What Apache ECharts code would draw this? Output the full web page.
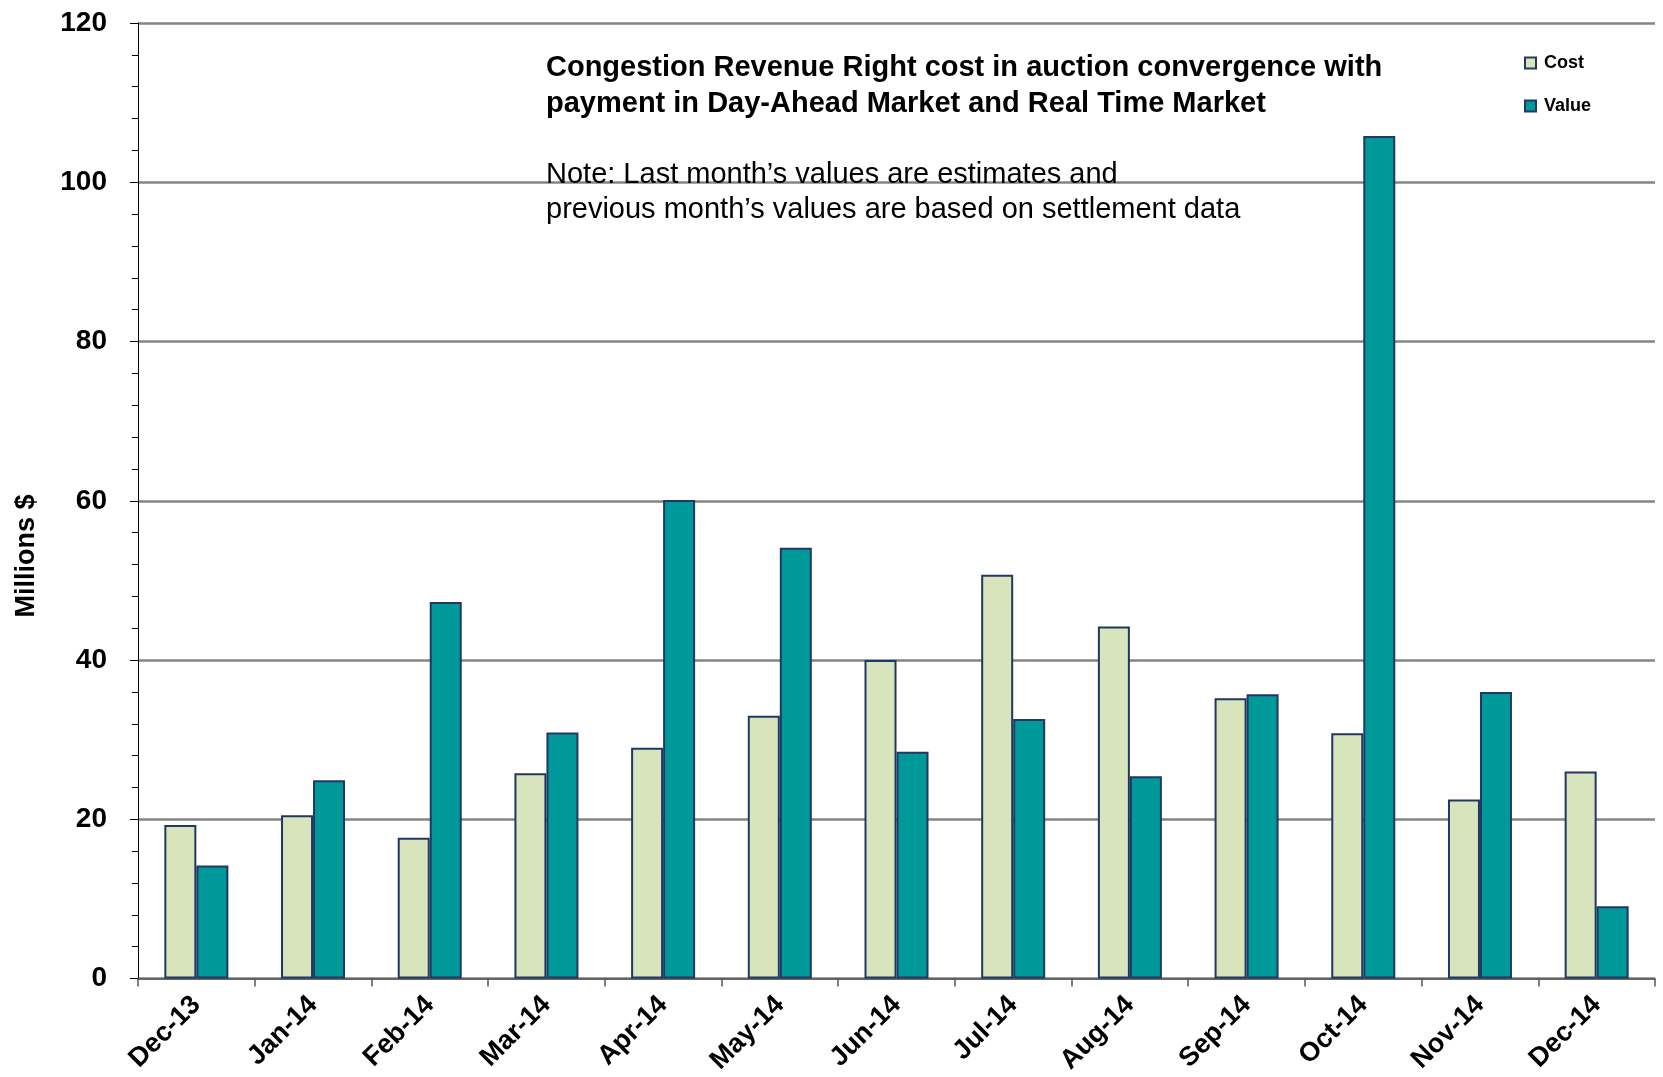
<!DOCTYPE html>
<html>
<head>
<meta charset="utf-8">
<script src="https://cdn.jsdelivr.net/npm/echarts@6/dist/echarts.min.js"></script>
<style>
  html, body { margin: 0; padding: 0; background: #fff; }
  #chart { width: 1663px; height: 1077px; }
</style>
</head>
<body>
<div id="chart"></div>
<script>
const months = ['Dec-13', 'Jan-14', 'Feb-14', 'Mar-14', 'Apr-14', 'May-14', 'Jun-14',
  'Jul-14', 'Aug-14', 'Sep-14', 'Oct-14', 'Nov-14', 'Dec-14']
const cost = [19.3, 20.5, 17.7, 25.8, 29.0, 33.0, 40.0, 50.7, 44.2, 35.2, 30.8, 22.5, 26.0]
const value = [14.2, 24.9, 47.3, 30.9, 60.1, 54.1, 28.5, 32.6, 25.4, 35.7, 105.8, 36.0, 9.1]
const yTicks = [0, 20, 40, 60, 80, 100, 120]

const font = 'Liberation Sans, Arial, sans-serif'
const border = '#1F3864'

const chart = echarts.init(document.getElementById('chart'))

chart.setOption({
  animation: false,
  textStyle: { fontFamily: font },
  title: {
    left: 541,
    top: 45,
    text: 'Congestion Revenue Right cost in auction convergence with\npayment in Day-Ahead Market and Real Time Market',
    subtext: 'Note: Last month\u2019s values are estimates and\nprevious month\u2019s values are based on settlement data',
    itemGap: 35,
    textStyle: { fontSize: 29, fontWeight: 'bold', color: '#000', lineHeight: 36 },
    subtextStyle: { fontSize: 29, color: '#000', lineHeight: 35 },
  },
  legend: {
    orient: 'vertical',
    left: 1519,
    top: 49,
    itemWidth: 11,
    itemHeight: 11,
    itemGap: 25,
    icon: 'rect',
    textStyle: { fontSize: 18, fontWeight: 'bold', color: '#000', padding: [0, 0, 0, 3] },
    data: ['Cost', 'Value'],
  },
  grid: { left: 138, top: 23, right: 8, bottom: 98, containLabel: false },
  xAxis: {
    type: 'category',
    data: months,
    axisLine: { lineStyle: { color: '#555', width: 1.5 } },
    axisTick: { show: true, alignWithLabel: false, length: 8, lineStyle: { color: '#555', width: 1.5 } },
    axisLabel: {
      rotate: 45,
      interval: 0,
      margin: 22,
      fontSize: 27,
      fontWeight: 'bold',
      color: '#000',
    },
  },
  yAxis: {
    type: 'value',
    min: yTicks[0],
    max: yTicks[yTicks.length - 1],
    interval: 20,
    axisLine: { show: true, lineStyle: { color: '#000', width: 1 } },
    axisTick: { show: true, length: 8, lineStyle: { color: '#000' } },
    minorTick: { show: true, splitNumber: 5, length: 6, lineStyle: { color: '#000' } },
    splitLine: { show: true, lineStyle: { color: '#858585', width: 2.5 } },
    axisLabel: { margin: 31, fontSize: 28, fontWeight: 'bold', color: '#000' },
  },
  graphic: [{
    type: 'text',
    x: 27,
    y: 556,
    rotation: Math.PI / 2,
    style: {
      text: 'Millions $',
      font: 'bold 27px ' + font,
      fill: '#000',
      align: 'center',
      verticalAlign: 'middle',
    },
  }],
  series: [
    {
      name: 'Cost',
      type: 'bar',
      data: cost,
      barWidth: 32,
      barGap: '0%',
      itemStyle: { color: '#D8E4BC', borderColor: border, borderWidth: 2 },
    },
    {
      name: 'Value',
      type: 'bar',
      data: value,
      barWidth: 32,
      barGap: '0%',
      itemStyle: { color: '#009999', borderColor: border, borderWidth: 2 },
    },
  ],
})
</script>
</body>
</html>
